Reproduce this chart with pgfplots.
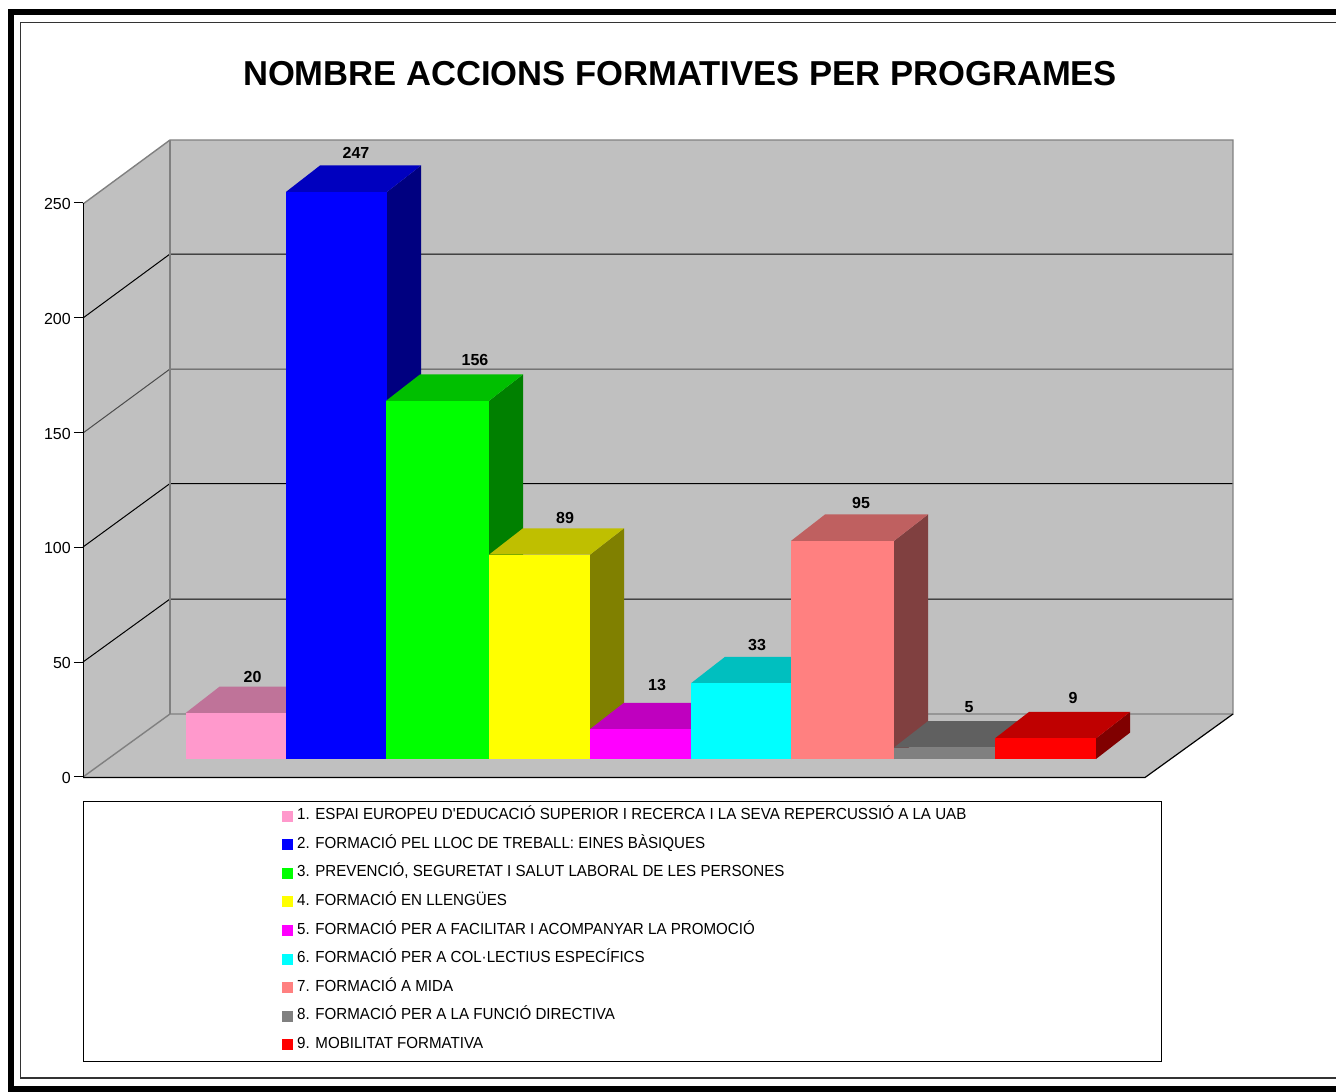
\documentclass[border=0pt]{standalone}
\usepackage{fontspec}
\setmainfont{Liberation Sans}
\newfontfamily\legendfont[FakeStretch=0.945]{Liberation Sans}
\usepackage{pgfplots}
\pgfplotsset{compat=1.18}
\definecolor{wall}{HTML}{C0C0C0}
\definecolor{edge}{HTML}{808080}
\definecolor{pinkF}{HTML}{FF99CC}\definecolor{pinkT}{HTML}{BF7399}\definecolor{pinkS}{HTML}{804D66}
\definecolor{blueF}{HTML}{0000FF}\definecolor{blueT}{HTML}{0000BF}\definecolor{blueS}{HTML}{000080}
\definecolor{greenF}{HTML}{00FF00}\definecolor{greenT}{HTML}{00BF00}\definecolor{greenS}{HTML}{008000}
\definecolor{yelF}{HTML}{FFFF00}\definecolor{yelT}{HTML}{BFBF00}\definecolor{yelS}{HTML}{808000}
\definecolor{magF}{HTML}{FF00FF}\definecolor{magT}{HTML}{BF00BF}\definecolor{magS}{HTML}{800080}
\definecolor{cyaF}{HTML}{00FFFF}\definecolor{cyaT}{HTML}{00BFBF}\definecolor{cyaS}{HTML}{008080}
\definecolor{salF}{HTML}{FF8080}\definecolor{salT}{HTML}{BF6060}\definecolor{salS}{HTML}{804040}
\definecolor{greF}{HTML}{808080}\definecolor{greT}{HTML}{606060}\definecolor{greS}{HTML}{404040}
\definecolor{redF}{HTML}{FF0000}\definecolor{redT}{HTML}{BF0000}\definecolor{redS}{HTML}{800000}
\pgfplotsset{
  page/.style={scale only axis,width=1336pt,height=1092pt,at={(0pt,0pt)},anchor=south west,
    xmin=0,xmax=1336,clip=false,hide axis},
  face/.style={fill=#1,draw=none,forget plot},
  front/.style 2 args={ybar,bar width=#1pt,bar shift=0pt,fill=#2,draw=none,forget plot},
  ln/.style={no markers,forget plot,line width=#1pt}
}
\begin{document}
\begin{tikzpicture}
\useasboundingbox (0,0) rectangle (1336pt,1092pt);
% chrome in pixel coordinates
\begin{axis}[page,ymin=0,ymax=1092,y dir=reverse,
  title={\fontsize{34.6}{40}\selectfont\bfseries NOMBRE ACCIONS FORMATIVES PER PROGRAMES},
  title style={at={(0.509,0.9275)},anchor=center,inner sep=0pt}]
\addplot[face=black] coordinates {(7.5,9)(1336,9)(1336,15)(7.5,15)};
\addplot[face=black] coordinates {(7.5,9)(13.5,9)(13.5,1092)(7.5,1092)};
\addplot[face=black] coordinates {(7.5,1086)(1336,1086)(1336,1092)(7.5,1092)};
\addplot[ln=1.6,color=black!80] coordinates {(1336,22.5)(20.5,22.5)(20.5,1077.7)(1336,1077.7)};
% walls and floor
\addplot[face=wall] coordinates {(170,140)(1233,140)(1233,714)(170,714)};
\addplot[face=wall] coordinates {(83,204)(170,140)(170,714)(83,777)};
\addplot[face=wall] coordinates {(83,777)(170,714)(1233,714)(1145,777)};
% grid
\addplot[ln=1,color=black] coordinates {(83,662)(170,599)(1233,599)};
\addplot[ln=1,color=black] coordinates {(83,547)(170,483.5)(1233,483.5)};
\addplot[ln=1,color=black!70] coordinates {(83,433)(170,369)(1233,369)};
\addplot[ln=1,color=black] coordinates {(83,318)(170,254)(1233,254)};
% wall edges
\addplot[ln=1.4,color=edge] coordinates {(83,204)(170,140)(1233,140)(1233,714)(170,714)(83,777)};
\addplot[ln=1.4,color=edge] coordinates {(170,140)(170,714)};
\addplot[ln=1.2,color=black] coordinates {(83,777.5)(1145,777.5)(1233,714)};
% legend box
\addplot[ln=1,color=black] coordinates {(83,801)(1161,801)(1161,1061.5)(83,1061.5)(83,801)};
\end{axis}
% bars: y is the value, 0 at the bars' base
\begin{axis}[page,ymin=-145.03,ymax=330.57,
  legend image code/.code={\fill[#1] (0pt,-5.5pt) rectangle (11pt,5.5pt);},
  legend style={at={(axis cs:282,-21.1)},anchor=north west,draw=none,fill=none,inner sep=0pt,
    font=\fontsize{16}{18}\legendfont,cells={anchor=west},row sep=11.8pt,
    nodes={inner sep=0pt,text height=12pt,text depth=4.8pt},
    /tikz/every odd column/.append style={column sep=4pt}},
]
\addplot[face=pinkS] coordinates {(286,0)(320,11.5)(320,31.5)(286,20)};
\addplot[face=pinkT] coordinates {(185.5,20)(219.5,31.5)(320,31.5)(286,20)};
\addplot[front={100.5}{pinkF}] coordinates {(235.75,20)};
\addplot[face=blueS] coordinates {(387,0)(421,11.5)(421,258.5)(387,247)};
\addplot[face=blueT] coordinates {(286,247)(320,258.5)(421,258.5)(387,247)};
\addplot[front={101}{blueF}] coordinates {(336.5,247)};
\addplot[face=greenS] coordinates {(489,0)(523,11.5)(523,167.5)(489,156)};
\addplot[face=greenT] coordinates {(386,156)(420,167.5)(523,167.5)(489,156)};
\addplot[front={103}{greenF}] coordinates {(437.5,156)};
\addplot[face=yelS] coordinates {(590,0)(624,11.5)(624,100.5)(590,89)};
\addplot[face=yelT] coordinates {(489,89)(523,100.5)(624,100.5)(590,89)};
\addplot[front={101}{yelF}] coordinates {(539.5,89)};
\addplot[face=magS] coordinates {(691,0)(725,11.5)(725,24.5)(691,13)};
\addplot[face=magT] coordinates {(590,13)(624,24.5)(725,24.5)(691,13)};
\addplot[front={101}{magF}] coordinates {(640.5,13)};
\addplot[face=cyaS] coordinates {(791,0)(825,11.5)(825,44.5)(791,33)};
\addplot[face=cyaT] coordinates {(691,33)(725,44.5)(825,44.5)(791,33)};
\addplot[front={100}{cyaF}] coordinates {(741,33)};
\addplot[face=salS] coordinates {(894,0)(928,11.5)(928,106.5)(894,95)};
\addplot[face=salT] coordinates {(791,95)(825,106.5)(928,106.5)(894,95)};
\addplot[front={103}{salF}] coordinates {(842.5,95)};
\addplot[face=greS] coordinates {(995,0)(1029,11.5)(1029,16.5)(995,5)};
\addplot[face=greT] coordinates {(894,5)(928,16.5)(1029,16.5)(995,5)};
\addplot[front={101}{greF}] coordinates {(944.5,5)};
\addplot[face=redS] coordinates {(1096,0)(1130,11.5)(1130,20.5)(1096,9)};
\addplot[face=redT] coordinates {(995,9)(1029,20.5)(1130,20.5)(1096,9)};
\addplot[front={101}{redF}] coordinates {(1045.5,9)};
% value labels
\addplot[draw=none,no markers,forget plot,
  visualization depends on={\thisrow{dy}\as\dy},
  point meta=explicit symbolic,
  nodes near coords,
  nodes near coords style={anchor=center,inner sep=0pt,yshift=\dy pt,
     font=\fontsize{16}{18}\selectfont\bfseries}]
  table[x=x,y=v,meta=v] {
x v dy
252.5 20 36
356 247 38.5
475 156 41
565 89 37
657 13 44
757 33 38
861 95 38
969 5 40
1073 9 40
};
% legend
\addlegendimage{fill=pinkF,draw=none}\addlegendentry{1. ESPAI EUROPEU D'EDUCACIÓ SUPERIOR I RECERCA I LA SEVA REPERCUSSIÓ A LA UAB}
\addlegendimage{fill=blueF,draw=none}\addlegendentry{2. FORMACIÓ PEL LLOC DE TREBALL: EINES BÀSIQUES}
\addlegendimage{fill=greenF,draw=none}\addlegendentry{3. PREVENCIÓ, SEGURETAT I SALUT LABORAL DE LES PERSONES}
\addlegendimage{fill=yelF,draw=none}\addlegendentry{4. FORMACIÓ EN LLENGÜES}
\addlegendimage{fill=magF,draw=none}\addlegendentry{5. FORMACIÓ PER A FACILITAR I ACOMPANYAR LA PROMOCIÓ}
\addlegendimage{fill=cyaF,draw=none}\addlegendentry{6. FORMACIÓ PER A COL·LECTIUS ESPECÍFICS}
\addlegendimage{fill=salF,draw=none}\addlegendentry{7. FORMACIÓ A MIDA}
\addlegendimage{fill=greF,draw=none}\addlegendentry{8. FORMACIÓ PER A LA FUNCIÓ DIRECTIVA}
\addlegendimage{fill=redF,draw=none}\addlegendentry{9. MOBILITAT FORMATIVA}
\end{axis}
% value axis at the front left edge
\begin{axis}[scale only axis,width=1062pt,height=574pt,at={(83pt,315pt)},anchor=south west,
  xmin=0,xmax=1,ymin=0,ymax=250,axis y line*=left,axis x line=none,
  ytick={0,50,100,150,200,250},tick align=outside,major tick length=9pt,
  tick style={black,line width=1pt},axis line style={black,line width=1pt},
  /pgf/number format/assume math mode=true,
  yticklabel style={font=\fontsize{16}{18}\selectfont,inner sep=0pt,xshift=-3pt,yshift=-1pt}]
\addplot[draw=none,no markers,forget plot] coordinates {(0,0)(1,250)};
\end{axis}
\end{tikzpicture}
\end{document}
